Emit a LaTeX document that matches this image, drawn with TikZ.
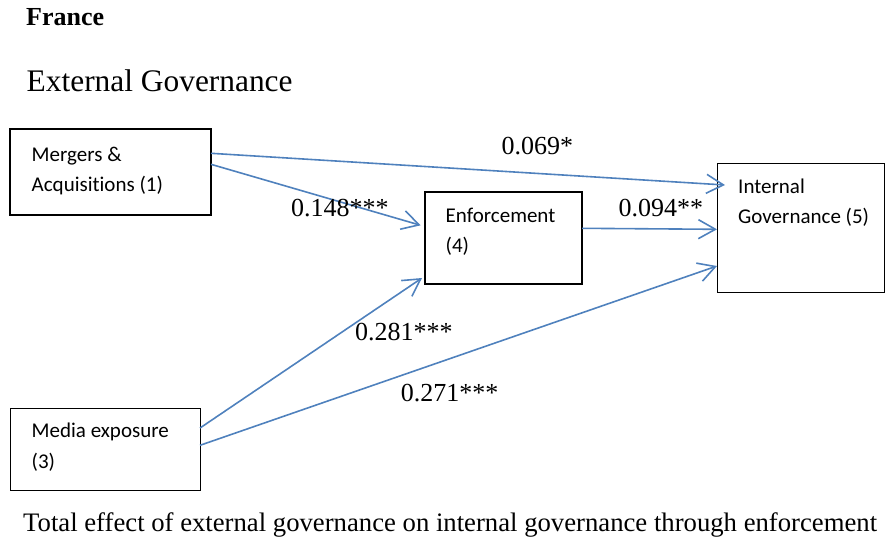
\documentclass[tikz,border=0pt]{standalone}
\usepackage{fontspec}
\setmainfont{Liberation Serif}
\newfontfamily\boxfont[Ligatures=NoCommon]{Carlito}
\usetikzlibrary{arrows.meta, positioning, calc}
\definecolor{colLine}{RGB}{79, 129, 189}

\begin{document}
\begin{tikzpicture}[x=1pt, y=-1pt,
    box/.style={draw, line width=1pt, inner sep=0pt, outer sep=0pt, anchor=north west},
    thickbox/.style={box, line width=2pt},
    boxtext/.style={font=\fontsize{21}{30}\boxfont, anchor=base west, inner sep=0pt, align=left},
    coef/.style={font=\fontsize{26}{30}\selectfont, anchor=base west, inner sep=0pt},
    link/.style={draw=colLine, line width=1.6pt, -{Straight Barb[length=17pt, width=19pt]}}
]
    \useasboundingbox (0,0) rectangle (885,542);

    % --- Titel ---
    \node[anchor=base west, inner sep=0pt, font=\fontsize{26}{30}\selectfont\bfseries] (country) at (26,25) {France};
    \node[anchor=base west, inner sep=0pt, font=\fontsize{31.4}{36}\selectfont] (title) at (26.5,91) {External Governance};

    % --- Kotak variabel ---
    \node[thickbox, minimum width=201pt, minimum height=86pt] (ma) at (10,129) {};
    \node[boxtext] (ma-txt) at ([shift={(21.5,62)}]ma.north west) {Mergers \&\\Acquisitions (1)};

    \node[thickbox, minimum width=157pt, minimum height=92pt] (enf) at (425,192) {};
    \node[boxtext] (enf-txt) at ([shift={(20.5,60)}]enf.north west) {Enforcement\\(4)};

    \node[box, minimum width=167pt, minimum height=129pt] (int) at (717,163) {};
    \node[boxtext] (int-txt) at ([shift={(21,60)}]int.north west) {Internal\\Governance (5)};

    \node[box, minimum width=190pt, minimum height=82pt] (media) at (10,408) {};
    \node[boxtext, font=\fontsize{21}{31}\boxfont] (media-txt) at ([shift={(21.5,60.5)}]media.north west) {Media exposure\\(3)};

    % --- Panah ---
    \draw[link] ([yshift=18.7pt]ma.east) -- ([xshift=8pt, yshift=42.5pt]int.west);
    \draw[link] ([yshift=7.7pt]ma.east) -- ([xshift=-4.3pt, yshift=12.7pt]enf.west);
    \draw[link] ([yshift=9.7pt]enf.east) -- ([yshift=-1.8pt]int.west);
    \draw[link] ([yshift=21pt]media.east) -- ([xshift=-3pt, yshift=-40pt]enf.west);
    \draw[link] ([yshift=3.7pt]media.east) -- ([yshift=-38.5pt]int.west);

    % --- Koefisien ---
    \node[coef] (c15) at (501.5,154.5) {0.069*};
    \node[coef] (c14) at (291,216.7) {0.148***};
    \node[coef] (c45) at (618.3,216.7) {0.094**};
    \node[coef] (c34) at (355,340.7) {0.281***};
    \node[coef] (c35) at (400.7,401.7) {0.271***};

    % --- Keterangan ---
    \node[anchor=base west, inner sep=0pt, font=\fontsize{26.7}{30}\selectfont] (caption) at (23,531) {Total effect of external governance on internal governance through enforcement};
\end{tikzpicture}
\end{document}
